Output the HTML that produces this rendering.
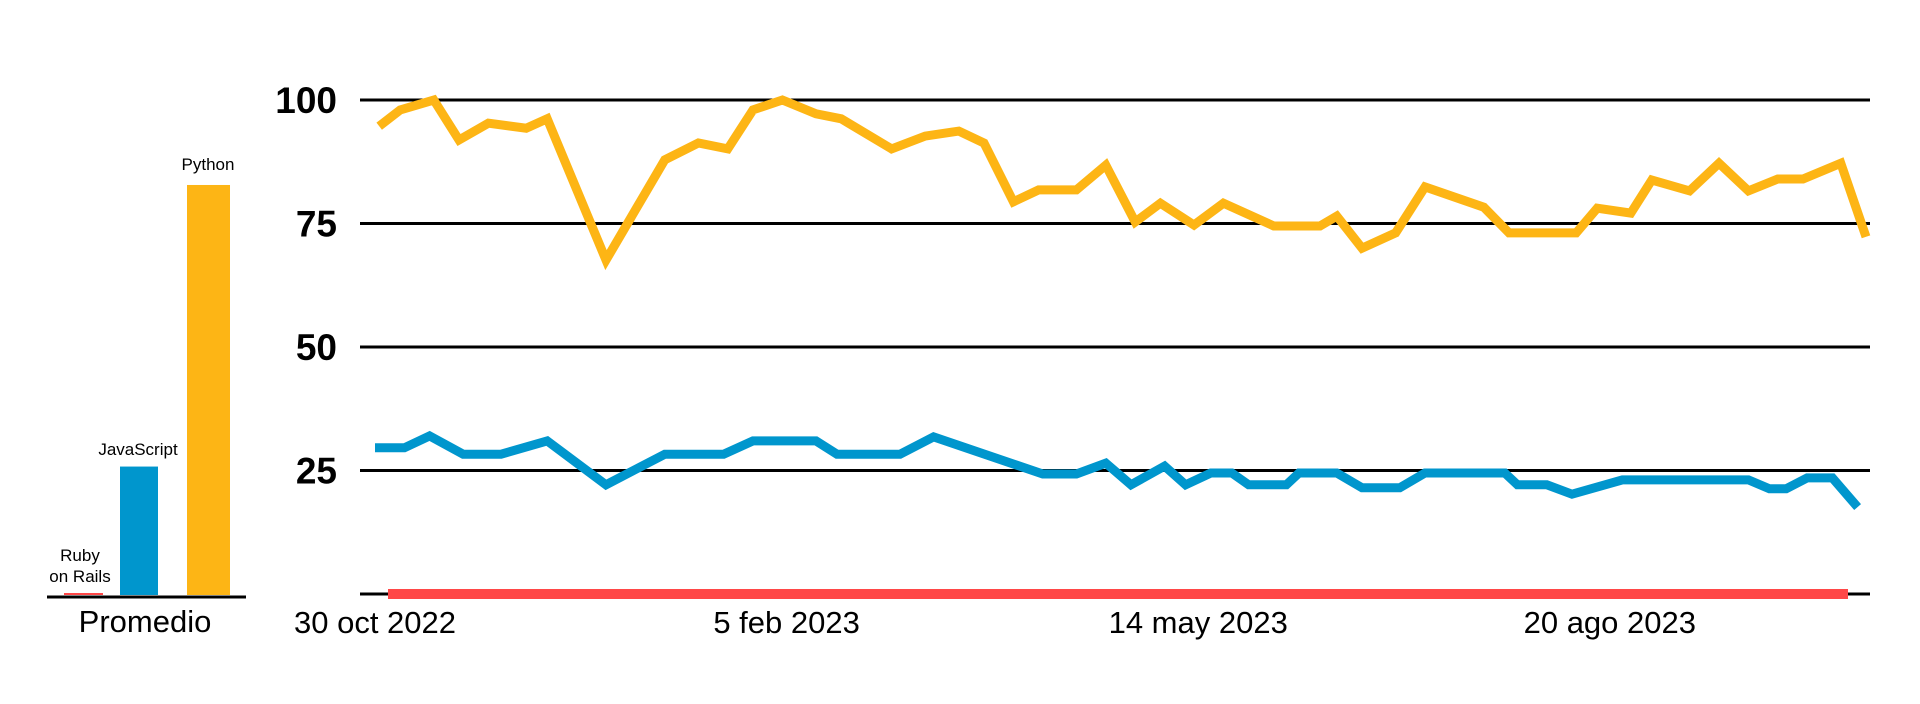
<!DOCTYPE html>
<html><head><meta charset="utf-8">
<style>
html,body{margin:0;padding:0;background:#fff;}
svg{display:block;font-family:"Liberation Sans",sans-serif;}
</style></head>
<body>
<svg id="chart" width="1920" height="704" viewBox="0 0 1920 704" xmlns="http://www.w3.org/2000/svg">
<g id="bars"></g>
<g id="grid"></g>
<g id="lines"></g>
<g id="xlabels"></g>
</svg>
<script>
const NS="http://www.w3.org/2000/svg";
// ---- data ----
const yTicks=[25,50,75,100];
const xTickLabels=["30 oct 2022","5 feb 2023","14 may 2023","20 ago 2023"];
const xTickDays=[0,98,196,294];
const pythonDays=[1,6,14,20,27,36,41,55,69,77,84,90,97,105,111,123,131,139,145,152,158,167,174,181,187,195,202,214,225,229,235,243,250,264,270,286,291,299,304,313,320,327,334,340,349,355];
const pythonValues=[94.7,98,100,91.9,95.3,94.3,96.2,67.6,87.9,91.3,90.1,98,100,97.2,96.2,90.1,92.7,93.7,91.3,79.4,81.8,81.8,86.8,75.3,79.1,74.7,79.1,74.5,74.5,76.5,70,73.1,82.4,78.3,73.1,73.1,78.1,77.1,83.8,81.6,87.2,81.6,84,84,87.2,72.3];
const jsDays=[0,7,13,21,30,41,55,69,83,90,105,110,125,133,159,167,174,180,188,193,199,204,208,217,220,229,235,244,250,269,272,279,285,297,327,332,336,341,347,353];
const jsValues=[29.6,29.6,32,28.3,28.3,31,22.1,28.3,28.3,31,31,28.3,28.3,31.8,24.3,24.3,26.5,22.1,25.9,22.1,24.5,24.5,22.1,22.1,24.5,24.5,21.5,21.5,24.5,24.5,22.1,22.1,20.2,23.1,23.1,21.3,21.3,23.5,23.5,17.6];
const barLanguages=["Ruby on Rails","JavaScript","Python"];
const barValues=[0.4,26,83];
// ---- scales ----
const y0=594, pxPerUnit=4.94;
function yScale(v){return y0-v*pxPerUnit;}
function xScale(d){return 375+d*4.2;}
function mk(tag,attrs,parent){const e=document.createElementNS(NS,tag);for(const k in attrs)e.setAttribute(k,attrs[k]);parent.appendChild(e);return e;}
const grid=document.getElementById('grid');
yTicks.forEach(t=>{
  const l=mk('line',{x1:360,x2:1870,y1:yScale(t),y2:yScale(t),stroke:'#000','stroke-width':3},grid);
  
  
  const tx=mk('text',{x:337,y:yScale(t)+13,'text-anchor':'end','font-size':37,'font-weight':'bold',fill:'#000'},grid);
  tx.textContent=t;
  
  
});
const axis=mk('line',{x1:360,x2:1870,y1:y0,y2:y0,stroke:'#000','stroke-width':3},grid);


const red=mk('rect',{x:388,y:589,width:1460,height:10,fill:'#ff4747'},grid);


const lines=document.getElementById('lines');
function series(days,vals,color,w,name){
  const pts=days.map((d,i)=>xScale(d).toFixed(1)+','+yScale(vals[i]).toFixed(1)).join(' ');
  const p=mk('polyline',{points:pts,fill:'none',stroke:color,'stroke-width':w,'stroke-linejoin':'miter'},lines);
  
  
}
series(jsDays,jsValues,'#0096cd',9,'javascript-line');
series(pythonDays,pythonValues,'#fdb515',9,'python-line');
const xl=document.getElementById('xlabels');
xTickLabels.forEach((s,i)=>{
  const t=mk('text',{x:xScale(xTickDays[i]),y:633,'text-anchor':'middle','font-size':31,fill:'#000'},xl);
  t.textContent=s;
  
  
});
// ---- bar chart ----
const bars=document.getElementById('bars');
const barX=[64,120,187], barW=[39,38,43], barColors=['#ff4747','#0096cd','#fdb515'];
barValues.forEach((v,i)=>{
  const h=Math.max(v*pxPerUnit,2);
  const r=mk('rect',{x:barX[i],y:595-h,width:barW[i],height:h,fill:barColors[i]},bars);
  
  
});
const bl=mk('line',{x1:47,x2:246,y1:597,y2:597,stroke:'#000','stroke-width':3},bars);


function lbl(txt,x,y,fs,name){
  const t=mk('text',{x:x,y:y,'text-anchor':'middle','font-size':fs,fill:'#000'},bars);
  t.textContent=txt;
  
  
}
lbl('Python',208,170,17,'bar-label-python');
lbl('JavaScript',138,455,17,'bar-label-javascript');
lbl('Ruby',80,561,17,'bar-label-ruby');
lbl('on Rails',80,582,17,'bar-label-on-rails');
lbl('Promedio',145,632,31,'bar-axis-label');
</script>
</body></html>
